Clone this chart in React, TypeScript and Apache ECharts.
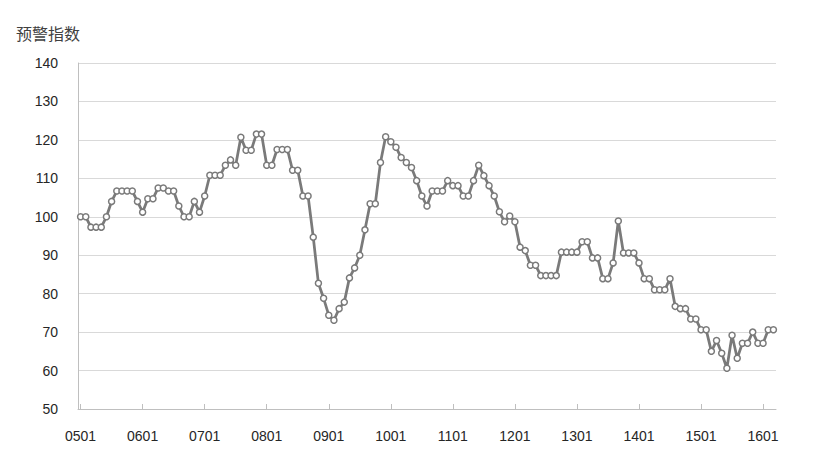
import React, { useEffect, useRef } from "react";
import * as echarts from "echarts";

const startYear = 2005;
const monthCount = 135;
const categories: string[] = [];
for (let i = 0; i < monthCount; i++) {
  const y = startYear + Math.floor(i / 12);
  const m = (i % 12) + 1;
  categories.push(String(y % 100).padStart(2, "0") + String(m).padStart(2, "0"));
}

const values2005to2008: number[] = [
  100, 100, 97.3, 97.3, 97.3, 100, 104, 106.7, 106.7, 106.7, 106.7, 104,
  101.2, 104.7, 104.7, 107.5, 107.5, 106.7, 106.7, 102.8, 100, 100, 104, 101.2,
  105.4, 110.8, 110.8, 110.8, 113.4, 114.8, 113.4, 120.7, 117.3, 117.3, 121.5, 121.5,
  113.4, 113.4, 117.5, 117.5, 117.5, 112.1, 112.1, 105.4, 105.4, 94.7, 82.7, 78.8,
];
const values2009to2012: number[] = [
  74.4, 73.1, 76.1, 77.8, 84.1, 86.7, 90.0, 96.6, 103.4, 103.4, 114.1, 120.8,
  119.5, 118.1, 115.4, 114.1, 112.8, 109.4, 105.4, 102.8, 106.7, 106.7, 106.7, 109.4,
  108.1, 108.1, 105.4, 105.4, 109.4, 113.4, 110.7, 108.1, 105.4, 101.3, 98.7, 100.2,
  98.7, 92.1, 91.2, 87.4, 87.4, 84.7, 84.7, 84.7, 84.7, 90.8, 90.8, 90.8,
];
const values2013to2016: number[] = [
  90.8, 93.5, 93.5, 89.3, 89.3, 83.9, 83.9, 88.0, 98.9, 90.6, 90.6, 90.6,
  88.0, 83.9, 83.9, 81.0, 81.0, 81.0, 83.9, 76.7, 76.1, 76.1, 73.4, 73.4,
  70.6, 70.6, 65.0, 67.8, 64.5, 60.6, 69.2, 63.2, 67.1, 67.1, 70.0, 67.1,
  67.1, 70.6, 70.6,
];
const seriesValues = [...values2005to2008, ...values2009to2012, ...values2013to2016];

const yMin = 50;
const yMax = 140;
const yInterval = 10;
const titleText = "预警指数";

export default function App() {
  const ref = useRef<HTMLDivElement>(null);
  useEffect(() => {
    if (!ref.current) return;
    const chart = echarts.init(ref.current, undefined, { renderer: "svg" });
    const font = "'Liberation Sans', Arial, sans-serif";
    chart.setOption({
      animation: false,
      backgroundColor: "#ffffff",
      grid: { left: 78, right: 53, top: 63, bottom: 59, containLabel: false },
      graphic: [
        {
          type: "text",
          left: 16,
          top: 25,
          style: {
            text: titleText,
            fontSize: 16,
            fontFamily: "'Noto Sans CJK SC', sans-serif",
            fill: "#404040",
          },
        },
      ],
      xAxis: {
        type: "category",
        data: categories,
        boundaryGap: true,
        axisLine: { show: true, lineStyle: { color: "#bfbfbf", width: 1 } },
        axisTick: {
          show: true,
          inside: true,
          length: 5,
          interval: 11,
          alignWithLabel: true,
          lineStyle: { color: "#bfbfbf" },
        },
        axisLabel: {
          interval: 11,
          margin: 20,
          fontSize: 14,
          color: "#262626",
          fontFamily: font,
        },
        splitLine: { show: false },
      },
      yAxis: {
        type: "value",
        min: yMin,
        max: yMax,
        interval: yInterval,
        axisLine: { show: true, lineStyle: { color: "#bfbfbf", width: 1 } },
        axisTick: { show: false },
        axisLabel: {
          margin: 20,
          fontSize: 14,
          color: "#262626",
          fontFamily: font,
        },
        splitLine: { show: true, lineStyle: { color: "#d9d9d9", width: 1 } },
      },
      series: [
        {
          type: "line",
          data: seriesValues,
          symbol: "circle",
          symbolSize: 6,
          showAllSymbol: true,
          lineStyle: { color: "#7a7a7a", width: 2.75 },
          itemStyle: { color: "#ffffff", borderColor: "#7a7a7a", borderWidth: 1.5 },
        },
      ],
    });
    return () => chart.dispose();
  }, []);
  return (
    <div
      ref={ref}
      style={{ position: "fixed", left: 0, top: 0, width: 829, height: 468, background: "#fff" }}
    />
  );
}
